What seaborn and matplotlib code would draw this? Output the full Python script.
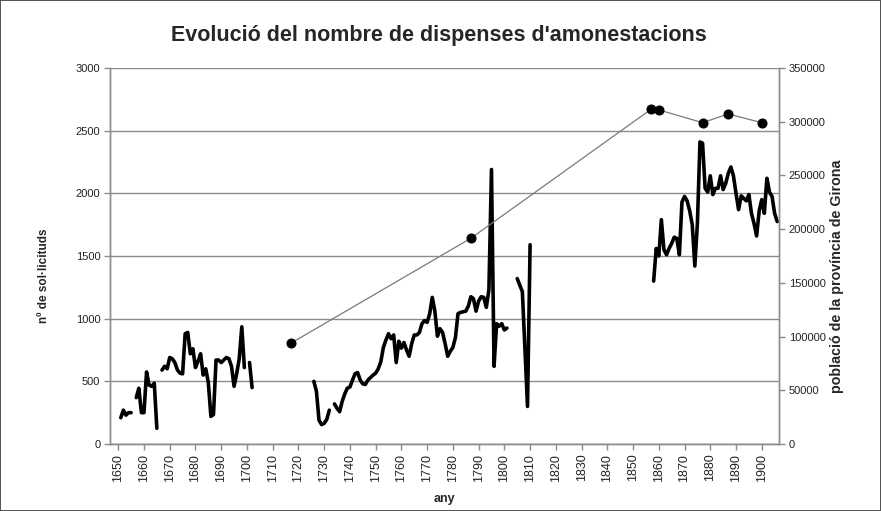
import numpy as np
import pandas as pd
import matplotlib
matplotlib.use("Agg")
import matplotlib.pyplot as plt
import seaborn as sns

# ---- data: requests for dispensations (left axis), by contiguous stretch ----
seg1_start = 1651
seg1_vals = [210, 270, 230, 250, 250]
seg2_start = 1657
seg2_vals = [370, 445, 250, 250, 575, 470, 460, 485, 125]
seg3_start = 1667
seg3_vals = [590, 620, 600, 690, 680, 650, 590, 565, 560, 880, 890, 720, 760,
             610, 660, 720, 550, 600, 490, 220, 235, 670, 670, 650, 670, 690,
             680, 620, 460, 560, 680, 935, 610]
seg4_start = 1701
seg4_vals = [650, 450]
seg5_start = 1726
seg5_vals = [500, 420, 190, 155, 165, 195, 270]
seg6_start = 1734
seg6_vals = [320, 285, 258, 340, 400, 445, 455, 510, 560, 570, 510, 480, 475,
             510, 530, 550, 565, 600, 655, 770, 830, 880, 840, 870, 650, 820,
             765, 810, 750, 700, 800, 870, 870, 890, 960, 985, 970, 1040, 1170,
             1060, 860, 920, 890, 800, 700, 740, 770, 850, 1040, 1050, 1055,
             1060, 1100, 1175, 1160, 1060, 1140, 1175, 1170, 1090, 1230, 2190,
             620, 960, 940, 960, 910, 925]
seg7_years = [1805, 1807, 1809, 1810]
seg7_vals = [1320, 1215, 300, 1590]
seg8_start = 1858
seg8_vals = [1300, 1560, 1500, 1790, 1550, 1510, 1560, 1600, 1650, 1640, 1510,
             1930, 1975, 1940, 1860, 1750, 1420, 1760, 2410, 2400, 2040, 2010,
             2140, 1990, 2040, 2040, 2140, 2030, 2080, 2160, 2210, 2140, 2000,
             1870, 1980, 1960, 1940, 1990, 1840, 1760, 1660, 1860, 1950, 1840,
             2120, 2010, 1975, 1840, 1775]

# ---- data: population of the province of Girona (right axis) ----
pop_years = [1717, 1787, 1857, 1860, 1877, 1887, 1900]
pop_vals = [93700, 191500, 311600, 311000, 299100, 307200, 299100]

x_ticks = list(range(1650, 1901, 10))
left_ticks = [0, 500, 1000, 1500, 2000, 2500, 3000]
right_ticks = [0, 50000, 100000, 150000, 200000, 250000, 300000, 350000]

title = "Evolució del nombre de dispenses d'amonestacions"
left_label = "nº de sol·licituds"
right_label = "població de la província de Girona"
x_label = "any"

# ---- build long table ----
rows = []
def add(seg_id, years, vals):
    for y, v in zip(years, vals):
        rows.append((seg_id, y, v))

add(1, range(seg1_start, seg1_start + len(seg1_vals)), seg1_vals)
add(2, range(seg2_start, seg2_start + len(seg2_vals)), seg2_vals)
add(3, range(seg3_start, seg3_start + len(seg3_vals)), seg3_vals)
add(4, range(seg4_start, seg4_start + len(seg4_vals)), seg4_vals)
add(5, range(seg5_start, seg5_start + len(seg5_vals)), seg5_vals)
add(6, range(seg6_start, seg6_start + len(seg6_vals)), seg6_vals)
add(7, seg7_years, seg7_vals)
add(8, range(seg8_start, seg8_start + len(seg8_vals)), seg8_vals)
df = pd.DataFrame(rows, columns=["tram", "any", "sol"])
pop = pd.DataFrame({"any": pop_years, "pob": pop_vals})

sns.set_style("white")
plt.rcParams["font.family"] = ["Liberation Sans", "DejaVu Sans"]

fig = plt.figure(figsize=(8.81, 5.11), dpi=100, facecolor="white",
                 edgecolor="#555555", linewidth=1.2)
ax = fig.add_axes([110 / 881, 67 / 511, 669 / 881, 376 / 511])
ax2 = ax.twinx()

grid_c = "#8c8c8c"

sns.lineplot(data=df, x="any", y="sol", units="tram", estimator=None,
             color="black", linewidth=2.6, ax=ax, sort=True)
sns.lineplot(data=pop, x="any", y="pob", color="#7a7a7a", linewidth=0.9,
             marker="o", markersize=6.5, markerfacecolor="black",
             markeredgecolor="black", ax=ax2)

ax.set_xlim(1646.8, 1906.7)
ax.set_ylim(0, 3000)
ax2.set_ylim(0, 350000)

ax.set_xticks(x_ticks)
ax.set_xticklabels([str(t) for t in x_ticks], rotation=90, fontsize=9)
ax.set_yticks(left_ticks)
ax.set_yticklabels([str(t) for t in left_ticks], fontsize=8)
ax2.set_yticks(right_ticks)
ax2.set_yticklabels([str(t) for t in right_ticks], fontsize=8)

ax.yaxis.grid(True, color=grid_c, linewidth=1.0)
ax.xaxis.grid(False)
ax2.grid(False)
ax.set_axisbelow(True)

for a in (ax, ax2):
    for s in ("left", "right", "bottom"):
        a.spines[s].set_color(grid_c)
        a.spines[s].set_linewidth(1.0)
    a.spines["top"].set_visible(False)
    a.tick_params(axis="both", which="both", direction="out", length=4,
                  width=1, color=grid_c, labelcolor="#222222", pad=3)
ax.tick_params(axis="y", left=True, right=False)
ax.tick_params(axis="x", bottom=True)
ax2.tick_params(axis="y", right=True, left=False)

ax.set_xlabel(x_label, fontsize=9, fontweight="bold")
ax.xaxis.set_label_coords(0.5, -0.130)
ax.set_ylabel(left_label, fontsize=8.5, fontweight="bold")
ax.yaxis.set_label_coords(-0.089, 0.447)
ax2.set_ylabel(right_label, fontsize=10.3, fontweight="bold", rotation=90)
ax2.yaxis.set_label_coords(1.076, 0.447)

fig.text(0.498, 1 - 36 / 511, title, ha="center", va="center",
         fontsize=15.5, fontweight="bold")

fig.savefig("out.png", dpi=100, facecolor="white", edgecolor="#555555")
